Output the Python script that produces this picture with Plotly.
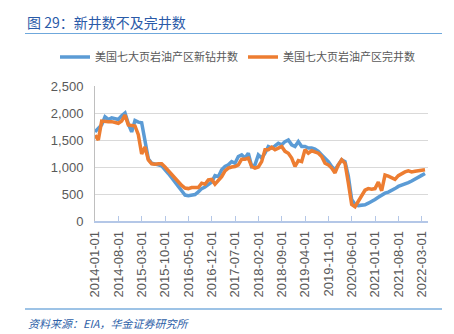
import plotly.graph_objects as go
import pandas as pd

months = pd.date_range("2014-01-01", "2022-04-01", freq="MS").strftime("%Y-%m-%d").tolist()

drilled = [
    1650, 1720, 1780, 1930, 1880, 1910, 1890, 1880, 1950, 2000,
    1800, 1650, 1860, 1830, 1820, 1450, 1150, 1070, 1060, 1040,
    1020, 960, 880, 800, 730, 640, 560, 480, 470, 480,
    490, 540, 600, 630, 680, 720, 840, 820, 950, 1010,
    1040, 1100, 1070, 1195, 1225, 1165, 1255, 1010, 1040, 1225,
    1165, 1255, 1380, 1350, 1390, 1440, 1410, 1470, 1500, 1410,
    1380, 1470, 1380, 1380, 1350, 1350, 1330, 1290, 1225, 1165,
    1100, 1010, 950, 1040, 1135, 1100, 830, 400, 305, 285,
    290, 300, 330, 360, 400, 440, 480, 515, 535, 560,
    600, 640, 660, 685, 710, 740, 770, 810, 845, 880,
]
completed = [
    1590, 1500, 1850, 1840, 1840, 1840, 1820, 1810, 1850, 1960,
    1780, 1770, 1760, 1600, 1240, 1370, 1130, 1060, 1050, 1060,
    1060, 1000, 930, 850, 780, 720, 660, 610, 600, 620,
    620, 620, 700, 680, 760, 770, 680, 740, 820, 930,
    980, 1000, 1010, 1040, 1145, 1145, 1165, 1010, 980, 1000,
    1100, 1320, 1320, 1365, 1320, 1350, 1380, 1290, 1255, 1165,
    1010, 1120, 1100, 1320, 1255, 1300, 1280, 1255, 1195, 1070,
    1040, 980, 890, 1040, 1135, 1070, 705, 305, 265, 360,
    450, 570, 600, 590, 600, 720, 560, 850, 830, 800,
    770, 840, 880, 910, 930, 910, 920, 930, 940, 950,
]
tick_labels = months[::7]

W, H = 454, 334
L, R, T, B = 95, 428, 86, 221

def px(x):
    return (x - L) / (R - L)

def py(y):
    return (B - y) / (B - T)

fig = go.Figure()
fig.add_trace(go.Scatter(x=months, y=drilled, mode="lines", name="美国七大页岩油产区新钻井数",
                         line=dict(color="#5B9BD5", width=3.5)))
fig.add_trace(go.Scatter(x=months, y=completed, mode="lines", name="美国七大页岩油产区完井数",
                         line=dict(color="#ED7D31", width=3.5)))

tickfont = dict(family="Liberation Sans, Arial, sans-serif", size=13, color="#595959")
fig.update_layout(
    width=W, height=H,
    margin=dict(l=L, r=W - R, t=T, b=H - B),
    paper_bgcolor="white", plot_bgcolor="white",
    showlegend=True,
    legend=dict(orientation="h", x=px(55), xanchor="left", y=py(57), yanchor="middle",
                bgcolor="rgba(0,0,0,0)",
                font=dict(family="Noto Sans CJK SC", size=11, color="#595959"),
                itemwidth=30, tracegroupgap=0),
    xaxis=dict(type="category", tickmode="array", tickvals=tick_labels, ticktext=tick_labels,
               tickangle=-90, tickfont=tickfont, range=[0, 99.9],
               showline=True, linecolor="#B4C7E7", linewidth=1.5,
               ticks="inside", ticklen=5, tickcolor="#B4C7E7", showgrid=False,
               ticklabelstandoff=3),
    yaxis=dict(range=[0, 2500], dtick=500, tickformat=",", tickfont=tickfont,
               showgrid=True, gridcolor="#D9D9D9", gridwidth=1,
               showline=True, linecolor="#BFBFBF", linewidth=1, zeroline=False,
               ticks="", ticklabelstandoff=8),
)

fig.add_annotation(xref="paper", yref="paper", x=px(25), y=py(22), xanchor="left", yanchor="middle",
                   text="图 29：新井数不及完井数", showarrow=False,
                   font=dict(family="Noto Sans CJK SC", size=14, color="#2A5AA8"))
fig.add_shape(type="line", xref="paper", yref="paper", x0=px(25), x1=px(442), y0=py(33.5), y1=py(33.5),
              line=dict(color="#6FA8DC", width=1.2))
fig.add_shape(type="line", xref="paper", yref="paper", x0=px(25), x1=px(442), y0=py(309), y1=py(309),
              line=dict(color="#9DC3E6", width=2))
fig.add_annotation(xref="paper", yref="paper", x=px(26), y=py(323), xanchor="left", yanchor="middle",
                   text="<i>资料来源：EIA，华金证券研究所</i>", showarrow=False,
                   font=dict(family="Noto Sans CJK SC", size=11, color="#2E5FA8"))

fig.write_html("out.html")
